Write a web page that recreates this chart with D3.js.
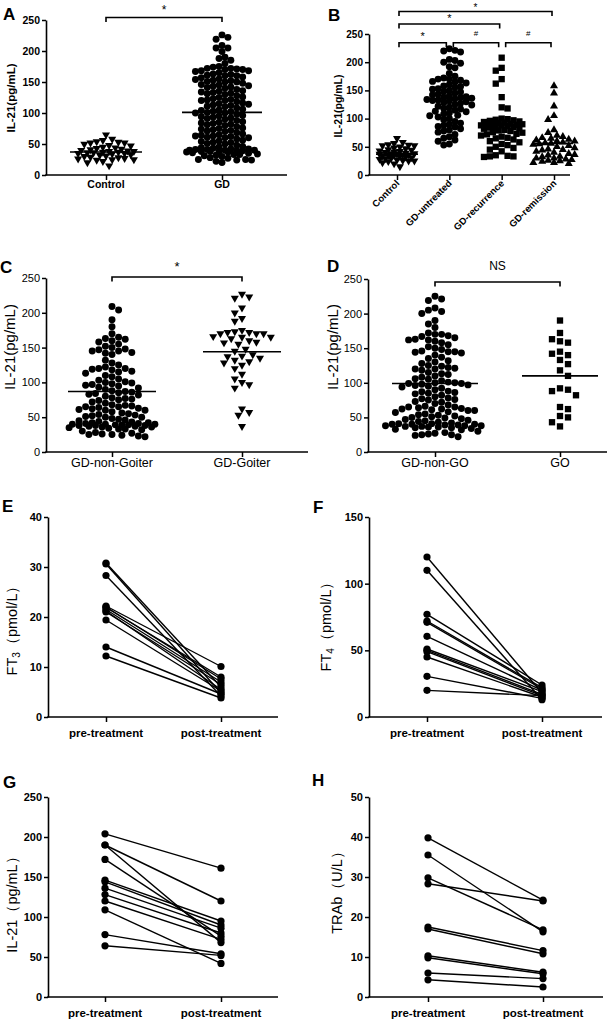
<!DOCTYPE html>
<html><head><meta charset="utf-8">
<script src="https://cdn.jsdelivr.net/npm/d3@7"></script>
<style>
body{margin:0;background:#fff}
svg{display:block}
text{font-family:"Liberation Sans",Arial,sans-serif;fill:#000}
</style>
</head><body>
<svg id="c" width="609" height="1024"></svg>
<script>
// ---------------- DATA ----------------
const ticks250 = [0, 50, 100, 150, 200, 250];
const ticksE = [0, 10, 20, 30, 40];
const ticksF = [0, 50, 100, 150];
const ticksH = [0, 10, 20, 30, 40, 50];

const catsA = ["Control", "GD"];
const a_control = [65,58,56,54,53,52,52,50,48,47,45,44,43,42,41,40,39,38,38,37,37,36,36,35,35,34,33,32,31,30,29,28,27,26,25,25,24,22,20,15];
const a_gd = [226,222,219,209,205,205,199,190,188,185,180,175,
  174,172,172,171,170,170,168,168,167,
  165,163,162,161,160,160,158,157,
  155,154,153,152,151,150,150,148,
  146,145,144,143,142,141,140,138,
  136,135,134,133,132,131,130,128,
  126,125,123,122,121,120,120,118,
  116,115,114,113,112,111,110,108,
  106,105,104,103,102,101,100,100,98,
  96,95,94,93,92,91,90,88,
  86,85,84,83,82,81,80,78,
  76,75,74,73,72,71,70,68,
  66,65,64,63,63,62,61,60,60,58,
  56,55,54,53,52,51,50,48,
  46,45,44,43,42,42,41,41,40,40,40,39,39,38,38,38,37,37,
  36,35,34,33,33,32,31,30,
  28,27,25,25,24,24,22,20];
const centerA = [37, 101];

const catsB = ["Control", "GD-untreated", "GD-recurrence", "GD-remission"];
const b_control = a_control;
const b_untreated = [224,221,220,218,205,203,200,198,192,190,180,175,172,170,170,168,166,165,163,160,158,157,155,153,152,150,148,147,145,143,142,140,139,138,137,136,135,134,133,132,131,130,128,127,125,124,122,120,118,117,115,113,112,110,108,106,105,103,100,98,95,92,90,88,86,85,82,80,78,76,72,68,65,62,60,55,53];
const b_recurrence = [208,190,185,170,162,138,120,118,100,99,98,97,96,95,94,93,92,91,90,90,89,89,88,88,87,86,85,84,83,82,80,79,78,76,75,73,72,70,68,66,65,63,60,58,55,53,50,48,45,42,35,34,33,33,32];
const b_remission = [158,145,122,105,98,80,75,70,68,66,65,63,62,60,60,58,57,56,55,54,52,50,48,46,45,44,42,40,38,36,35,33,32,30,30,28,27,26,25,24,22,22,20];
const centerB = [37, 135, 89, 56];
const sigB = [
  {a: 0, b: 1, level: 0, label: "*"},
  {a: 1, b: 2, level: 0, label: "#"},
  {a: 2, b: 3, level: 0, label: "#"},
  {a: 0, b: 2, level: 1, label: "*"},
  {a: 0, b: 3, level: 2, label: "*"}
];

const catsC = ["GD-non-Goiter", "GD-Goiter"];
const c_nonGoiter = [209,204,190,180,170,165,163,162,160,158,155,152,150,148,147,145,145,143,142,140,132,128,125,122,120,120,119,118,116,115,113,110,108,105,103,101,100,99,98,97,96,95,93,92,90,88,87,86,85,84,83,82,80,78,77,76,75,74,72,70,68,67,66,65,65,64,63,62,61,60,60,58,56,55,54,53,52,51,50,50,48,47,46,45,44,43,42,42,41,41,40,40,40,39,39,39,38,38,38,37,37,36,36,35,34,33,33,32,30,28,27,26,25,25,24,23,22];
const c_goiter = [227,223,221,207,200,192,188,175,173,172,172,170,170,170,166,165,165,163,160,158,157,155,148,145,140,138,137,135,132,130,128,125,120,112,105,100,97,92,62,57,53,37];
const centerC = [87, 144];

const catsD = ["GD-non-GO", "GO"];
const d_nonGO = [225,221,219,208,205,203,200,190,185,180,172,170,170,168,167,165,163,162,162,160,158,155,152,150,148,146,145,145,144,143,140,137,135,132,130,128,125,124,122,121,120,120,118,115,113,112,110,108,106,105,103,101,100,100,99,99,98,97,96,95,94,92,90,88,87,86,85,84,82,80,78,77,76,75,73,72,70,68,66,65,65,64,63,62,62,61,60,60,58,57,55,54,53,52,51,50,49,48,47,46,45,44,43,42,41,41,40,40,40,39,39,38,38,38,37,37,36,36,35,35,34,33,32,30,28,27,26,25,25,24,22];
const d_GO = [190,172,163,160,158,145,142,140,133,127,118,110,92,90,88,82,65,62,52,50,43,37];
const centerD = [99, 110];

const pairCats = ["pre-treatment", "post-treatment"];
const e_pre  = [30.8, 30.6, 28.3, 22.2, 22.0, 21.9, 21.5, 21.2, 21.0, 19.4, 14.0, 12.2];
const e_post = [6.0, 4.8, 4.2, 10.1, 7.6, 8.0, 7.0, 5.5, 6.5, 5.2, 4.6, 3.8];
const f_pre  = [120, 110, 77, 72, 71, 60.5, 51, 50, 49, 45, 30.5, 20];
const f_post = [18, 13, 24, 22, 21, 20, 19, 17, 16, 15, 14, 16];
const g_pre  = [204, 190, 190, 172, 146, 144, 136, 128, 120, 109, 78, 64];
const g_post = [161, 120, 68, 76, 95, 90, 86, 80, 72, 42, 54, 52];
const h_pre  = [39.8, 35.5, 29.8, 28.3, 17.5, 17.0, 10.3, 9.8, 6.0, 4.3];
const h_post = [24.2, 16.3, 16.8, 24.0, 11.6, 10.8, 6.2, 5.8, 4.6, 2.5];

// ---------------- DRAW ----------------
const svg = d3.select("#c");
svg.append("rect").attr("width", 609).attr("height", 1024).attr("fill", "#fff");

function panelLabel(t, x, y) {
  svg.append("text").attr("x", x).attr("y", y).text(t)
    .style("font-size", "17px").style("font-weight", "bold");
}

function makePanel(cfg) {
  const y = d3.scaleLinear().domain([0, cfg.ymax]).range([cfg.yBot, cfg.yTop]);
  const x = d3.scalePoint().domain(cfg.cats).range(cfg.catRange);
  const g = svg.append("g");
  const ya = g.append("g").attr("transform", `translate(${cfg.axisX},0)`)
    .call(d3.axisLeft(y).tickValues(cfg.ticks).tickSize(4).tickSizeOuter(0).tickPadding(2));
  ya.attr("font-family", null).attr("font-size", null);
  ya.select(".domain").attr("stroke", "#000").attr("stroke-width", 1.6);
  ya.selectAll(".tick line").attr("stroke", "#000").attr("stroke-width", 1.5);
  ya.selectAll(".tick text").attr("fill", "#000")
    .style("font-size", cfg.tickSize + "px").style("font-weight", cfg.tickWeight);
  g.append("line").attr("x1", cfg.axisX - 0.8).attr("x2", cfg.xEnd)
    .attr("y1", cfg.yBot).attr("y2", cfg.yBot).attr("stroke", "#000").attr("stroke-width", 1.6);
  const xa = g.append("g").attr("transform", `translate(0,${cfg.yBot})`)
    .call(d3.axisBottom(x).tickSize(5).tickSizeOuter(0).tickFormat(""));
  xa.select(".domain").remove();
  xa.selectAll(".tick line").attr("stroke", "#000").attr("stroke-width", 1.5);
  cfg.cats.forEach(c => {
    const t = g.append("text").text(c)
      .style("font-size", cfg.xlabSize + "px").style("font-weight", cfg.xlabWeight);
    if (cfg.rotate) {
      t.attr("text-anchor", "end")
        .attr("transform", `translate(${x(c) + 3},${cfg.yBot + 9}) rotate(-45)`);
    } else {
      t.attr("text-anchor", "middle").attr("x", x(c)).attr("y", cfg.yBot + cfg.xlabDy);
    }
  });
  const tt = g.append("text").attr("text-anchor", "middle")
    .attr("transform", `translate(${cfg.titleX},${cfg.titleY}) rotate(-90)`)
    .style("font-size", cfg.titleSize + "px").style("font-weight", cfg.titleWeight);
  if (cfg.titleParts) {
    cfg.titleParts.forEach(p => {
      const s = tt.append("tspan").text(p.t);
      if (p.sub) s.attr("dy", 3).style("font-size", (cfg.titleSize * 0.7) + "px");
      if (p.after) s.attr("dy", -3);
    });
  } else {
    tt.text(cfg.title);
  }
  return {x, y, g};
}

function swarm(values, y, cx, d, maxHalf) {
  const pts = values.map(v => ({v, y: y(v)})).sort((a, b) => a.y - b.y);
  const placed = [];
  const step = d / 2;
  const nmax = Math.floor(maxHalf / step);
  pts.forEach((p, i) => {
    let best = cx, bestScore = -Infinity, done = false;
    const order = (i % 2) ? [1, -1] : [-1, 1];
    for (let k = 0; k <= nmax && !done; k++) {
      const signs = k === 0 ? [0] : order;
      for (const s of signs) {
        const xx = cx + s * k * step;
        let minD = Infinity;
        for (const q of placed) {
          const dd = Math.hypot(q.x - xx, q.y - p.y);
          if (dd < minD) minD = dd;
        }
        if (minD >= d) { best = xx; done = true; break; }
        if (minD > bestScore) { bestScore = minD; best = xx; }
      }
    }
    p.x = best; placed.push(p);
  });
  return pts;
}

const SYM = {
  circle: d3.symbol().type(d3.symbolCircle).size(38)(),
  down: d3.symbol().type(d3.symbolTriangle).size(28)(),
  up: d3.symbol().type(d3.symbolTriangle).size(28)(),
  square: d3.symbol().type(d3.symbolSquare).size(40)()
};

function scatterGroup(P, cat, values, shape, d, maxHalf, center, halfLine) {
  const cx = P.x(cat);
  const pts = swarm(values, P.y, cx, d, maxHalf);
  P.g.append("g").selectAll("path").data(pts).join("path")
    .attr("d", SYM[shape])
    .attr("transform", p => `translate(${p.x},${p.y})` + (shape === "down" ? " rotate(180)" : ""))
    .attr("fill", "#000");
  P.g.append("line").attr("x1", cx - halfLine).attr("x2", cx + halfLine)
    .attr("y1", P.y(center)).attr("y2", P.y(center))
    .attr("stroke", "#000").attr("stroke-width", 1.6);
}

function bracket(x1, x2, yy, label, labelY, size, weight) {
  svg.append("path")
    .attr("d", `M${x1},${yy + 4.5}V${yy}H${x2}V${yy + 4.5}`)
    .attr("fill", "none").attr("stroke", "#000").attr("stroke-width", 1.6);
  svg.append("text").attr("x", (x1 + x2) / 2).attr("y", labelY).attr("text-anchor", "middle")
    .text(label).style("font-size", size + "px").style("font-weight", weight || "normal");
}

// ---- Panel A ----
const A = makePanel({ymax: 250, yTop: 20, yBot: 175, axisX: 46, xEnd: 287, cats: catsA, catRange: [106, 222],
  ticks: ticks250, tickSize: 10.5, tickWeight: "bold", xlabSize: 10.5, xlabWeight: "bold", xlabDy: 13,
  title: "IL-21(pg/mL)", titleX: 15, titleY: 98, titleSize: 11.5, titleWeight: "bold"});
scatterGroup(A, "Control", a_control, "down", 6.2, 29, centerA[0], 36);
scatterGroup(A, "GD", a_gd, "circle", 5.9, 38, centerA[1], 40);
bracket(A.x("Control"), A.x("GD"), 17.5, "*", 13.5, 12);
panelLabel("A", 3, 20);

// ---- Panel B ----
const B = makePanel({ymax: 250, yTop: 34, yBot: 175, axisX: 369, xEnd: 570, cats: catsB, catRange: [397, 554],
  ticks: ticks250, tickSize: 10, tickWeight: "bold", xlabSize: 9.5, xlabWeight: "bold", rotate: true,
  title: "IL-21(pg/mL)", titleX: 342, titleY: 106, titleSize: 10.5, titleWeight: "bold"});
scatterGroup(B, "Control", b_control, "down", 5.8, 19, centerB[0], 21);
scatterGroup(B, "GD-untreated", b_untreated, "circle", 5.6, 25, centerB[1], 21);
scatterGroup(B, "GD-recurrence", b_recurrence, "square", 5.9, 22, centerB[2], 20);
scatterGroup(B, "GD-remission", b_remission, "up", 5.9, 22, centerB[3], 19);
const levY = [42.7, 24, 11.5];
sigB.forEach(s => {
  const xa = B.x(catsB[s.a]), xb = B.x(catsB[s.b]);
  const x1 = s.level === 0 && s.a > 0 ? xa + 4 : xa + 2;
  const x2 = s.level === 0 ? xb - 3 : xb - 2;
  const ly = s.label === "#" ? levY[s.level] - 7 : (s.level === 2 ? 10.5 : levY[s.level] - 2.5);
  bracket(x1, x2, levY[s.level], s.label, ly, s.label === "#" ? 8 : (s.level === 2 ? 10 : 11));
});
panelLabel("B", 328, 21);

// ---- Panel C ----
const C = makePanel({ymax: 250, yTop: 278, yBot: 452, axisX: 46, xEnd: 308, cats: catsC, catRange: [112, 242],
  ticks: ticks250, tickSize: 11, tickWeight: "normal", xlabSize: 12.5, xlabWeight: "normal", xlabDy: 15,
  title: "IL-21(pg/mL)", titleX: 15, titleY: 347, titleSize: 15, titleWeight: "normal"});
scatterGroup(C, "GD-non-Goiter", c_nonGoiter, "circle", 6.6, 44, centerC[0], 44);
scatterGroup(C, "GD-Goiter", c_goiter, "down", 7.2, 34, centerC[1], 39);
bracket(C.x("GD-non-Goiter"), C.x("GD-Goiter"), 277, "*", 271, 13);
panelLabel("C", 0, 273);

// ---- Panel D ----
const D = makePanel({ymax: 250, yTop: 279, yBot: 452, axisX: 368, xEnd: 607, cats: catsD, catRange: [435, 560],
  ticks: ticks250, tickSize: 11, tickWeight: "normal", xlabSize: 12.5, xlabWeight: "normal", xlabDy: 15,
  title: "IL-21(pg/mL)", titleX: 338, titleY: 347, titleSize: 15, titleWeight: "normal"});
scatterGroup(D, "GD-non-GO", d_nonGO, "circle", 6.6, 50, centerD[0], 43);
scatterGroup(D, "GO", d_GO, "square", 8, 26, centerD[1], 38);
bracket(D.x("GD-non-GO"), D.x("GO"), 282, "NS", 270, 12);
panelLabel("D", 327, 272);

// ---- Paired panels ----
function pairPanel(cfg, pre, post) {
  const P = makePanel(Object.assign({cats: pairCats, tickSize: 11, tickWeight: "bold", xlabSize: 11.5,
    xlabWeight: "bold", xlabDy: 20, titleSize: 14.5, titleWeight: "normal"}, cfg));
  const xp = P.x(pairCats[0]), xq = P.x(pairCats[1]);
  const pairs = pre.map((v, i) => [v, post[i]]);
  P.g.append("g").selectAll("line").data(pairs).join("line")
    .attr("x1", xp).attr("x2", xq).attr("y1", d => P.y(d[0])).attr("y2", d => P.y(d[1]))
    .attr("stroke", "#000").attr("stroke-width", 1.4);
  const dots = pairs.flatMap(d => [[xp, d[0]], [xq, d[1]]]);
  P.g.append("g").selectAll("circle").data(dots).join("circle")
    .attr("cx", d => d[0]).attr("cy", d => P.y(d[1])).attr("r", 3.6).attr("fill", "#000");
  return P;
}

pairPanel({ymax: 40, yTop: 517, yBot: 717, axisX: 48, xEnd: 278, catRange: [106, 221], ticks: ticksE,
  titleParts: [{t: "FT"}, {t: "3", sub: true}, {t: "（pmol/L）", after: true}], titleX: 17, titleY: 627}, e_pre, e_post);
panelLabel("E", 2, 512);

pairPanel({ymax: 150, yTop: 517, yBot: 717, axisX: 369, xEnd: 602, catRange: [427, 542], ticks: ticksF,
  titleParts: [{t: "FT"}, {t: "4", sub: true}, {t: "（pmol/L）", after: true}], titleX: 331, titleY: 623}, f_pre, f_post);
panelLabel("F", 313, 513);

pairPanel({ymax: 250, yTop: 797, yBot: 997, axisX: 48, xEnd: 278, catRange: [105, 221], ticks: ticks250,
  title: "IL-21（pg/mL）", titleX: 17, titleY: 901}, g_pre, g_post);
panelLabel("G", 3, 788);

pairPanel({ymax: 50, yTop: 797, yBot: 997, axisX: 369, xEnd: 603, catRange: [428, 543], ticks: ticksH,
  title: "TRAb（U/L）", titleX: 342, titleY: 889}, h_pre, h_post);
panelLabel("H", 312, 786);
</script>
</body></html>
